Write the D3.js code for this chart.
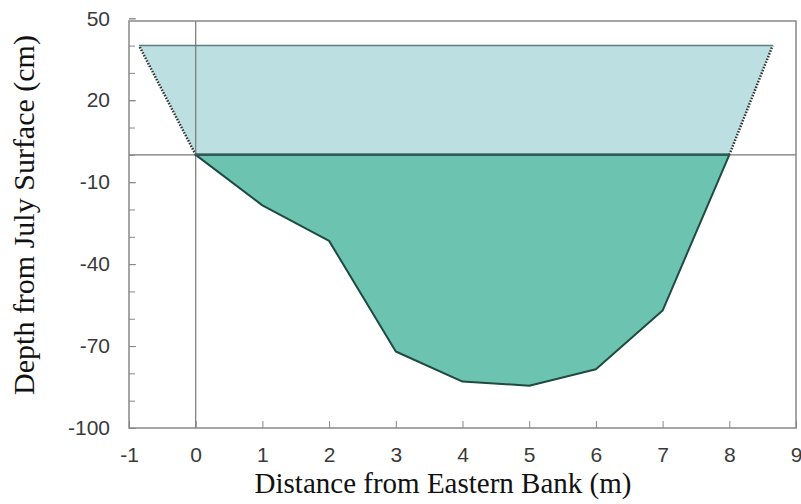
<!DOCTYPE html>
<html>
<head>
<meta charset="utf-8">
<script src="https://cdn.jsdelivr.net/npm/d3@7"></script>
<style>
  body { margin: 0; background: #fff; }
  .tick text { font-family: "Liberation Sans", Arial, sans-serif; font-size: 21px; fill: #3a3a3a; }
  .title { font-family: "Liberation Serif", "Times New Roman", serif; font-size: 29px; fill: #111; }
</style>
</head>
<body>
<div id="chart"></div>
<script>
// bed profile (distance m, depth cm)
var bedX = [0, 1, 2, 3, 4, 5, 6, 7, 8];
var bedY = [0, -18.5, -31.5, -72, -83, -84.5, -78.5, -57, 0];

// July surface is 0, spring stage above it
var stageX = [-0.85, 8.65, 8, 0];
var stageY = [40, 40, 0, 0];

var xTicks = [-1, 0, 1, 2, 3, 4, 5, 6, 7, 8, 9];
var yTicks = [50, 20, -10, -40, -70, -100];
var yMinor = d3.range(-100, 51, 10);

var width = 801, height = 504;
var margin = { top: 21, right: 5, bottom: 76, left: 129 };
var w = width - margin.left - margin.right;
var h = height - margin.top - margin.bottom;

var svg = d3.select('#chart').append('svg')
    .attr('width', width)
    .attr('height', height);

var g = svg.append('g')
    .attr('transform', 'translate(' + margin.left + ',' + margin.top + ')');

var xScale = d3.scaleLinear().domain([-1, 9]).range([0, w]);
var yScale = d3.scaleLinear().domain([-100, 49]).range([h, 0]);

var line = d3.line()
    .x(function (d) { return xScale(d[0]); })
    .y(function (d) { return yScale(d[1]); });

var stage = stageX.map(function (x, i) { return [x, stageY[i]]; });
var bed = bedX.map(function (x, i) { return [x, bedY[i]]; });

// light blue high water
g.append('path')
    .attr('d', line(stage) + 'Z')
    .attr('fill', '#bcdfe2');

// dotted banks above the surface
g.append('path')
    .attr('d', line([stage[3], stage[0]]))
    .attr('fill', 'none').attr('stroke', '#333').attr('stroke-width', 2.5)
    .attr('stroke-dasharray', '1.5,1.5');
g.append('path')
    .attr('d', line([stage[2], stage[1]]))
    .attr('fill', 'none').attr('stroke', '#333').attr('stroke-width', 2.5)
    .attr('stroke-dasharray', '1.5,1.5');
g.append('path')
    .attr('d', line([stage[0], stage[1]]))
    .attr('fill', 'none').attr('stroke', '#5a7f80').attr('stroke-width', 1.5);

// zero lines
g.append('line')
    .attr('x1', 0).attr('x2', w)
    .attr('y1', yScale(0)).attr('y2', yScale(0))
    .attr('stroke', '#777').attr('stroke-width', 1.2);
g.append('line')
    .attr('x1', xScale(0)).attr('x2', xScale(0))
    .attr('y1', 0).attr('y2', h)
    .attr('stroke', '#777').attr('stroke-width', 1.2);

// channel
g.append('path')
    .attr('d', line(bed) + 'Z')
    .attr('fill', '#6cc4b0')
    .attr('stroke', '#1f4a42')
    .attr('stroke-width', 2)
    .attr('stroke-linejoin', 'round');
g.append('path')
    .attr('d', line([bed[0], bed[bed.length - 1]]))
    .attr('stroke', '#2f5a55').attr('stroke-width', 2.5);

// axes, ticks inward; plain hyphen for negatives
var fmt = function (d) { return String(d); };
var xAxis = d3.axisBottom(xScale).tickValues(xTicks).tickSize(-7).tickPadding(19)
    .tickFormat(fmt);
var yAxis = d3.axisLeft(yScale).tickValues(yTicks).tickSize(-7).tickPadding(19)
    .tickFormat(fmt);

g.append('g')
    .attr('class', 'y axis minor')
    .call(d3.axisLeft(yScale).tickValues(yMinor).tickSize(-6).tickFormat(''))
    .call(function (s) { s.select('.domain').remove(); s.selectAll('line').attr('stroke', '#888'); });

g.append('g')
    .attr('class', 'x axis')
    .attr('transform', 'translate(0,' + h + ')')
    .call(xAxis)
    .call(function (s) { s.select('.domain').remove(); s.selectAll('line').attr('stroke', '#888'); });

g.append('g')
    .attr('class', 'y axis')
    .call(yAxis)
    .call(function (s) { s.select('.domain').remove(); s.selectAll('line').attr('stroke', '#888'); });

// frame
g.append('rect')
    .attr('width', w).attr('height', h)
    .attr('fill', 'none').attr('stroke', '#888').attr('stroke-width', 1.5);

svg.append('text')
    .attr('class', 'title')
    .attr('x', 443)
    .attr('y', 493)
    .attr('text-anchor', 'middle')
    .text('Distance from Eastern Bank (m)');

svg.append('text')
    .attr('class', 'title')
    .style('font-size', '30px')
    .attr('transform', 'translate(34,215) rotate(-90)')
    .attr('text-anchor', 'middle')
    .text('Depth from July Surface (cm)');
</script>
</body>
</html>
